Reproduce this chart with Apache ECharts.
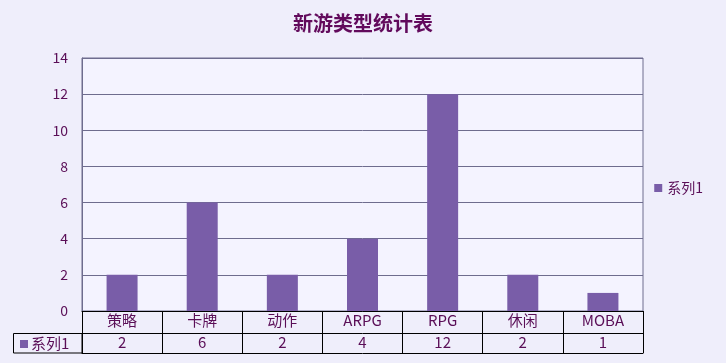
<!DOCTYPE html>
<html><head><meta charset="utf-8">
<script src="https://cdn.jsdelivr.net/npm/echarts@6/dist/echarts.min.js"></script>
<style>html,body{margin:0;padding:0;background:#EFEEFB;}#c{width:726px;height:363px;}</style>
</head><body><div id="c"></div>
<script>
const categories = ['策略','卡牌','动作','ARPG','RPG','休闲','MOBA'];
const values = [2, 6, 2, 4, 12, 2, 1];
const seriesName = '系列1';
const yTicks = {min: 0, max: 14, interval: 2};
const txt = '#5A0E57';
const font = '"Noto Sans CJK SC", "DejaVu Sans", sans-serif';
const chart = echarts.init(document.getElementById('c'));
chart.setOption({
  backgroundColor: '#EFEEFB',
  animation: false,
  title: {text: '新游类型统计表', left: 'center', top: 8,
    textStyle: {color: '#620A5C', fontSize: 20, fontWeight: 'bold', fontFamily: font}},
  legend: {data: [seriesName], right: 18, top: 176, icon: 'rect', itemWidth: 8, itemHeight: 8, itemGap: 4,
    textStyle: {color: txt, fontSize: 14, fontFamily: font}},
  grid: {left: 82, right: 83, top: 58, bottom: 52, show: true, backgroundColor: '#F4F3FF', borderColor: '#6E6C8E', borderWidth: 1},
  yAxis: {type: 'value', min: yTicks.min, max: yTicks.max, interval: yTicks.interval,
    axisLine: {show: true, lineStyle: {color: '#6E6C8E'}}, axisTick: {show: false},
    axisLabel: {color: txt, fontSize: 14, fontFamily: font, margin: 14},
    splitLine: {lineStyle: {color: '#6E6C8E'}}},
  xAxis: [
    {type: 'category', data: categories, position: 'bottom',
      axisLine: {show: true, lineStyle: {color: '#000'}},
      axisTick: {show: true, length: 42, interval: 0, lineStyle: {color: '#000'}},
      axisLabel: {color: txt, fontSize: 15, fontFamily: font, margin: 2, interval: 0}},
    {type: 'category', data: values.map(String), position: 'bottom', offset: 22, gridIndex: 0,
      axisLine: {show: true, lineStyle: {color: '#000'}}, axisTick: {show: false},
      axisLabel: {color: txt, fontSize: 15, fontFamily: font, margin: 2, interval: 0}},
    {type: 'category', data: values.map(String), position: 'bottom', offset: 42, gridIndex: 0,
      axisLine: {show: true, lineStyle: {color: '#000'}}, axisTick: {show: false}, axisLabel: {show: false}}
  ],
  series: [{name: seriesName, type: 'bar', data: values, barWidth: 31, xAxisIndex: 0,
    itemStyle: {color: '#795DA8'}}],
  graphic: [
    {type: 'rect', shape: {x: 13.5, y: 333.5, width: 68.5, height: 19.5}, style: {fill: 'none', stroke: '#000', lineWidth: 1}},
    {type: 'rect', shape: {x: 20, y: 340, width: 8, height: 8}, style: {fill: '#795DA8'}},
    {type: 'text', x: 31, y: 343, style: {text: seriesName, fill: txt, fontSize: 15, fontFamily: font, verticalAlign: 'middle'}}
  ]
});
</script></body></html>
